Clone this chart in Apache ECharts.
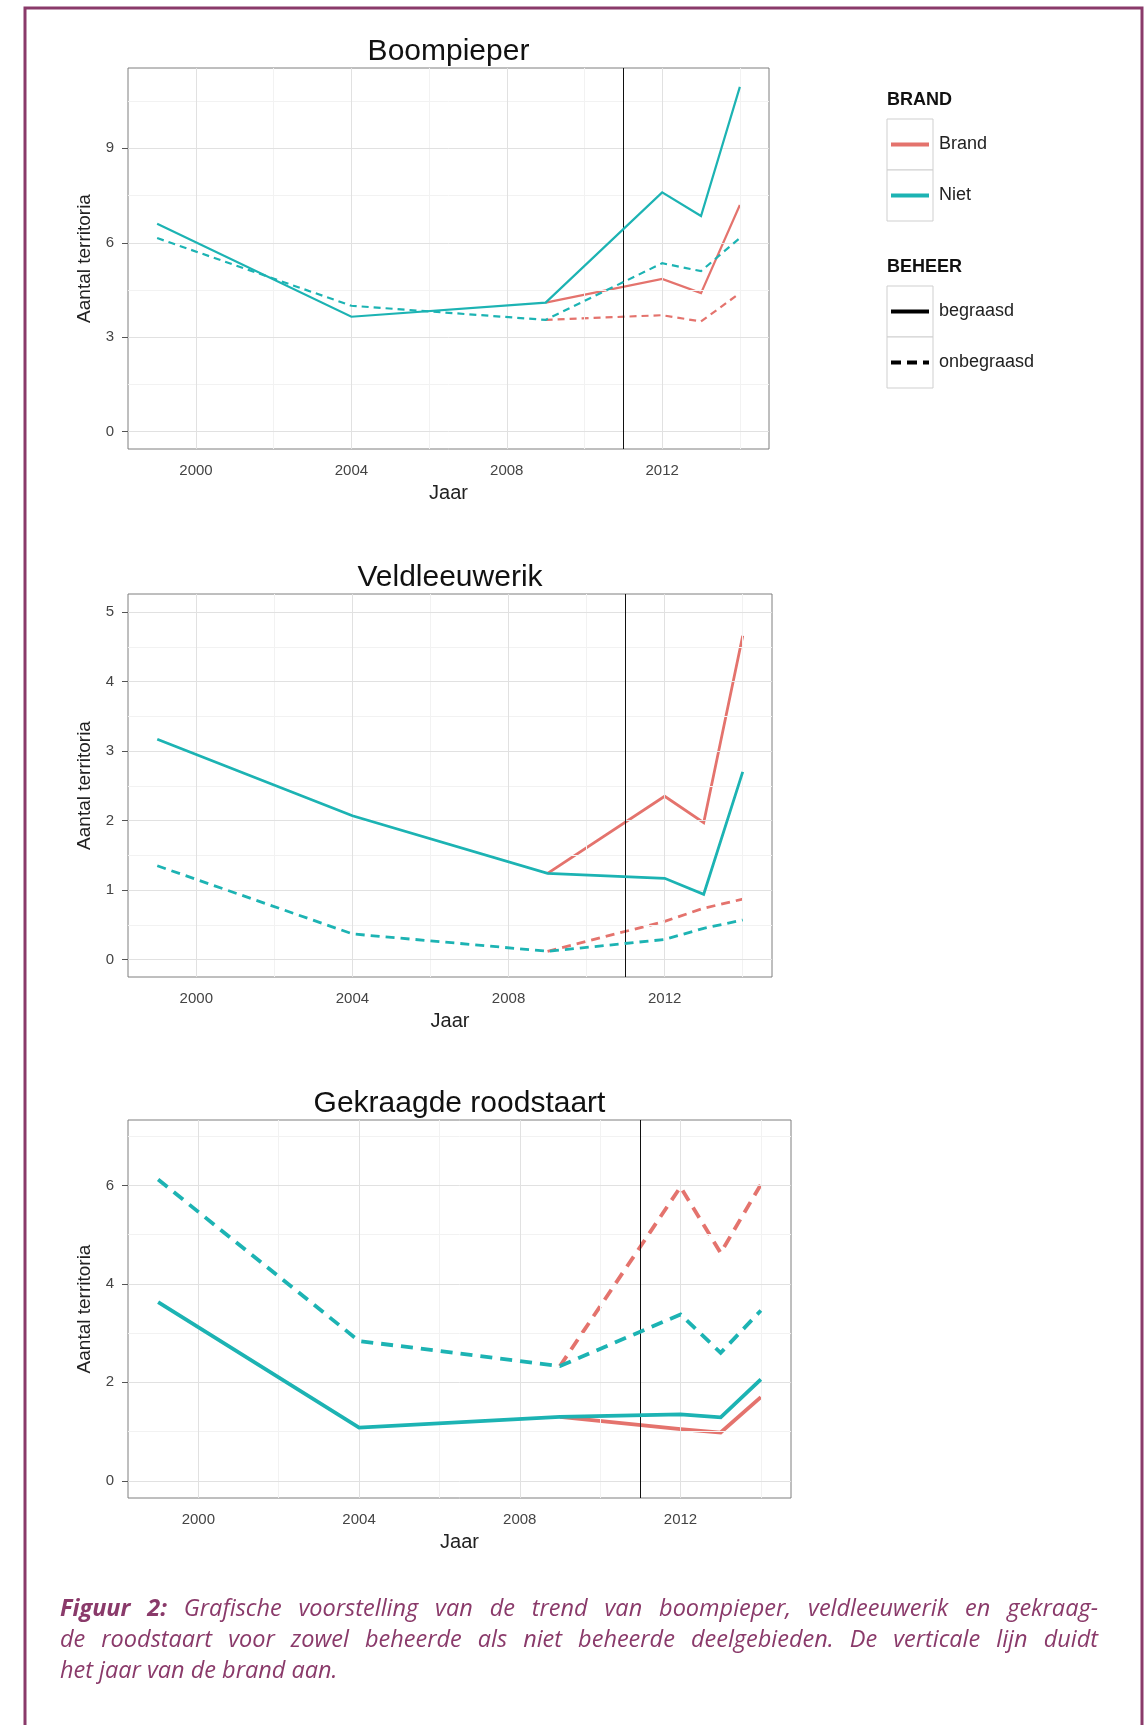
<!DOCTYPE html>
<html><head><meta charset="utf-8">
<script src="https://cdn.jsdelivr.net/npm/echarts@6/dist/echarts.min.js"></script>
<style>html,body{margin:0;padding:0;background:#fff}#c{width:1145px;height:1725px}</style>
</head><body><div id="c"></div>
<script>
// ---- data ----
const years = [1999, 2004, 2009, 2012, 2013, 2014];
const xTicks = [2000, 2004, 2008, 2012];
const xMinor = [2002, 2006, 2010, 2014];
const fireYear = 2011;

const boompieperBrandBegraasd   = [null, null, 4.1, 4.85, 4.4, 7.2];
const boompieperBrandOnbegraasd = [null, null, 3.55, 3.7, 3.5, 4.4];
const boompieperNietBegraasd    = [6.6, 3.65, 4.1, 7.6, 6.85, 10.95];
const boompieperNietOnbegraasd  = [6.15, 4.0, 3.55, 5.35, 5.1, 6.15];
const boompieperYTicks = [0, 3, 6, 9];
const boompieperYMinor = [1.5, 4.5, 7.5, 10.5];

const veldBrandBegraasd   = [null, null, 1.24, 2.35, 1.97, 4.66];
const veldBrandOnbegraasd = [null, null, 0.12, 0.55, 0.74, 0.87];
const veldNietBegraasd    = [3.17, 2.07, 1.24, 1.17, 0.94, 2.7];
const veldNietOnbegraasd  = [1.35, 0.37, 0.12, 0.29, 0.45, 0.57];
const veldYTicks = [0, 1, 2, 3, 4, 5];
const veldYMinor = [0.5, 1.5, 2.5, 3.5, 4.5];

const roodBrandBegraasd   = [null, null, 1.3, 1.05, 0.98, 1.7];
const roodBrandOnbegraasd = [null, null, 2.33, 5.97, 4.63, 6.02];
const roodNietBegraasd    = [3.63, 1.08, 1.3, 1.35, 1.29, 2.06];
const roodNietOnbegraasd  = [6.12, 2.84, 2.33, 3.38, 2.6, 3.46];
const roodYTicks = [0, 2, 4, 6];
const roodYMinor = [1, 3, 5, 7];

const titles = ['Boompieper', 'Veldleeuwerik', 'Gekraagde roodstaart'];
const legendBrand = ['Brand', 'Niet'];
const legendBeheer = ['begraasd', 'onbegraasd'];
const captionBold = 'Figuur 2:';
const captionLines = [
  'Grafische voorstelling van de trend van boompieper, veldleeuwerik en gekraag-',
  'de roodstaart voor zowel beheerde als niet beheerde deelgebieden. De verticale lijn duidt',
  'het jaar van de brand aan.'
];

// ---- styling / layout ----
const RED = '#E4736D', TEAL = '#1CB3B3';
const FONT = '"Liberation Sans", Arial, sans-serif';
const panels = [
  { grid: {left: 128, top: 68, width: 641, height: 381}, yMin: -0.55, yMax: 11.55,
    yTicks: boompieperYTicks, yMinor: boompieperYMinor, lw: 2.2, dash: [7, 5],
    data: [boompieperBrandBegraasd, boompieperBrandOnbegraasd, boompieperNietBegraasd, boompieperNietOnbegraasd] },
  { grid: {left: 128, top: 594, width: 644, height: 383}, yMin: -0.25, yMax: 5.26,
    yTicks: veldYTicks, yMinor: veldYMinor, lw: 2.8, dash: [9, 6],
    data: [veldBrandBegraasd, veldBrandOnbegraasd, veldNietBegraasd, veldNietOnbegraasd] },
  { grid: {left: 128, top: 1120, width: 663, height: 378}, yMin: -0.35, yMax: 7.33,
    yTicks: roodYTicks, yMinor: roodYMinor, lw: 3.8, dash: [12, 8],
    data: [roodBrandBegraasd, roodBrandOnbegraasd, roodNietBegraasd, roodNietOnbegraasd] }
];

const grids = [], xAxes = [], yAxes = [], series = [], graphics = [];
panels.forEach((p, i) => {
  grids.push(Object.assign({show: true, borderColor: '#7f7f7f', borderWidth: 1, backgroundColor: '#fff'}, p.grid));
  xAxes.push({
    type: 'value', gridIndex: i, min: 1998.25, max: 2014.75,
    name: 'Jaar', nameLocation: 'middle', nameGap: 34,
    nameTextStyle: {fontFamily: FONT, fontSize: 20, color: '#222'},
    axisLine: {show: false}, splitLine: {show: false},
    axisTick: {show: true, customValues: xTicks, length: 6, lineStyle: {color: '#555'}},
    axisLabel: {customValues: xTicks, margin: 14, fontFamily: FONT, fontSize: 15, color: '#444',
      formatter: v => String(v)}
  });
  yAxes.push({
    type: 'value', gridIndex: i, min: p.yMin, max: p.yMax,
    name: 'Aantal territoria', nameLocation: 'middle', nameGap: 26, nameRotate: 90,
    nameTextStyle: {fontFamily: FONT, fontSize: 19, color: '#222'},
    axisLine: {show: false}, splitLine: {show: false},
    axisTick: {show: true, customValues: p.yTicks, length: 6, lineStyle: {color: '#555'}},
    axisLabel: {customValues: p.yTicks, margin: 14, fontFamily: FONT, fontSize: 15, color: '#444',
      formatter: v => String(v)}
  });
  const major = {color: '#e1e1e1', width: 1, type: 'solid'};
  const minor = {color: '#f2f2f2', width: 1, type: 'solid'};
  const gl = [];
  xMinor.forEach(v => gl.push({xAxis: v, lineStyle: minor}));
  p.yMinor.forEach(v => gl.push({yAxis: v, lineStyle: minor}));
  xTicks.forEach(v => gl.push({xAxis: v, lineStyle: major}));
  p.yTicks.forEach(v => gl.push({yAxis: v, lineStyle: major}));
  series.push({
    type: 'line', xAxisIndex: i, yAxisIndex: i, data: [], z: 1, silent: true,
    markLine: {silent: true, symbol: 'none', label: {show: false}, animation: false, data: gl}
  });
  const styles = [
    {color: RED, type: 'solid'}, {color: RED, type: p.dash},
    {color: TEAL, type: 'solid'}, {color: TEAL, type: p.dash}
  ];
  p.data.forEach((arr, k) => {
    series.push({
      type: 'line', xAxisIndex: i, yAxisIndex: i, z: 3 + k, showSymbol: false, silent: true,
      data: years.map((y, j) => [y, arr[j]]),
      lineStyle: {color: styles[k].color, width: p.lw, type: styles[k].type, cap: 'butt', join: 'miter'}
    });
  });
  series.push({
    type: 'line', xAxisIndex: i, yAxisIndex: i, data: [], z: 10, silent: true,
    markLine: {silent: true, symbol: 'none', label: {show: false}, animation: false,
      lineStyle: {color: '#111', width: 1, type: 'solid'}, data: [{xAxis: fireYear}]}
  });
  graphics.push({
    type: 'text', x: p.grid.left + p.grid.width / 2, y: p.grid.top - 16,
    style: {text: titles[i], fontFamily: FONT, fontSize: 30, fill: '#111', align: 'center', verticalAlign: 'middle'}
  });
});

// frame
graphics.push({type: 'polyline', shape: {points: [[25, 1725], [25, 8], [1142, 8], [1142, 1725]]},
  style: {stroke: '#8a3a6a', lineWidth: 3, fill: null}});

// legend
const LX = 887, KW = 46, KH = 51;
function legendGroup(title, ty, labels, lineStyles) {
  graphics.push({type: 'text', x: LX, y: ty, style: {text: title, fontFamily: FONT, fontSize: 18, fontWeight: 'bold', fill: '#111', verticalAlign: 'middle'}});
  labels.forEach((lab, k) => {
    const top = ty + 19 + k * KH;
    graphics.push({type: 'rect', shape: {x: LX, y: top, width: KW, height: KH}, style: {fill: '#fff', stroke: '#cfcfcf', lineWidth: 1}});
    graphics.push({type: 'line', shape: {x1: LX + 4, y1: top + KH / 2, x2: LX + KW - 4, y2: top + KH / 2},
      style: Object.assign({lineWidth: 4}, lineStyles[k])});
    graphics.push({type: 'text', x: LX + KW + 6, y: top + KH / 2, style: {text: lab, fontFamily: FONT, fontSize: 18, fill: '#222', verticalAlign: 'middle'}});
  });
}
legendGroup('BRAND', 100, legendBrand, [{stroke: RED}, {stroke: TEAL}]);
legendGroup('BEHEER', 267, legendBeheer, [{stroke: '#000'}, {stroke: '#000', lineDash: [10, 6]}]);

// caption (justified lines 1 and 2 using rich-text spacers)
const CAP = '#8a3a6a';
const capFontFamily = '"Open Sans", "Noto Sans", sans-serif';
const CAP_SIZE = 23.5, CAP_X = 60, CAP_W = 1038;
const mctx = document.createElement('canvas').getContext('2d');
function measure(t, bold) {
  mctx.font = 'italic ' + (bold ? 'bold ' : '') + CAP_SIZE + 'px ' + capFontFamily;
  return mctx.measureText(t).width;
}
captionLines.forEach((line, k) => {
  const words = line.split(' ');
  const tokens = [];
  if (k === 0) captionBold.split(' ').forEach(w => tokens.push({t: w, b: true}));
  words.forEach(w => tokens.push({t: w, b: false}));
  let text, rich = {
    b: {fontFamily: capFontFamily, fontSize: CAP_SIZE, fontStyle: 'italic', fontWeight: 'bold', fill: CAP},
    n: {fontFamily: capFontFamily, fontSize: CAP_SIZE, fontStyle: 'italic', fill: CAP}
  };
  if (k < 2) {
    const total = tokens.reduce((s, tk) => s + measure(tk.t, tk.b), 0);
    const gap = Math.max(3, (CAP_W - total) / (tokens.length - 1));
    rich.s = {width: gap, fontFamily: capFontFamily, fontSize: CAP_SIZE, fill: CAP};
    text = tokens.map(tk => '{' + (tk.b ? 'b' : 'n') + '|' + tk.t + '}').join('{s| }');
  } else {
    text = '{n|' + line + '}';
  }
  graphics.push({type: 'text', x: CAP_X, y: 1609 + k * 31,
    style: {text: text, fontFamily: capFontFamily, fontSize: CAP_SIZE, fontStyle: 'italic', fill: CAP,
      verticalAlign: 'middle', rich: rich}});
});

const chart = echarts.init(document.getElementById('c'), null, {renderer: 'canvas', width: 1145, height: 1725});
chart.setOption({
  animation: false,
  backgroundColor: '#fff',
  grid: grids, xAxis: xAxes, yAxis: yAxes, series: series, graphic: graphics
});
</script></body></html>
